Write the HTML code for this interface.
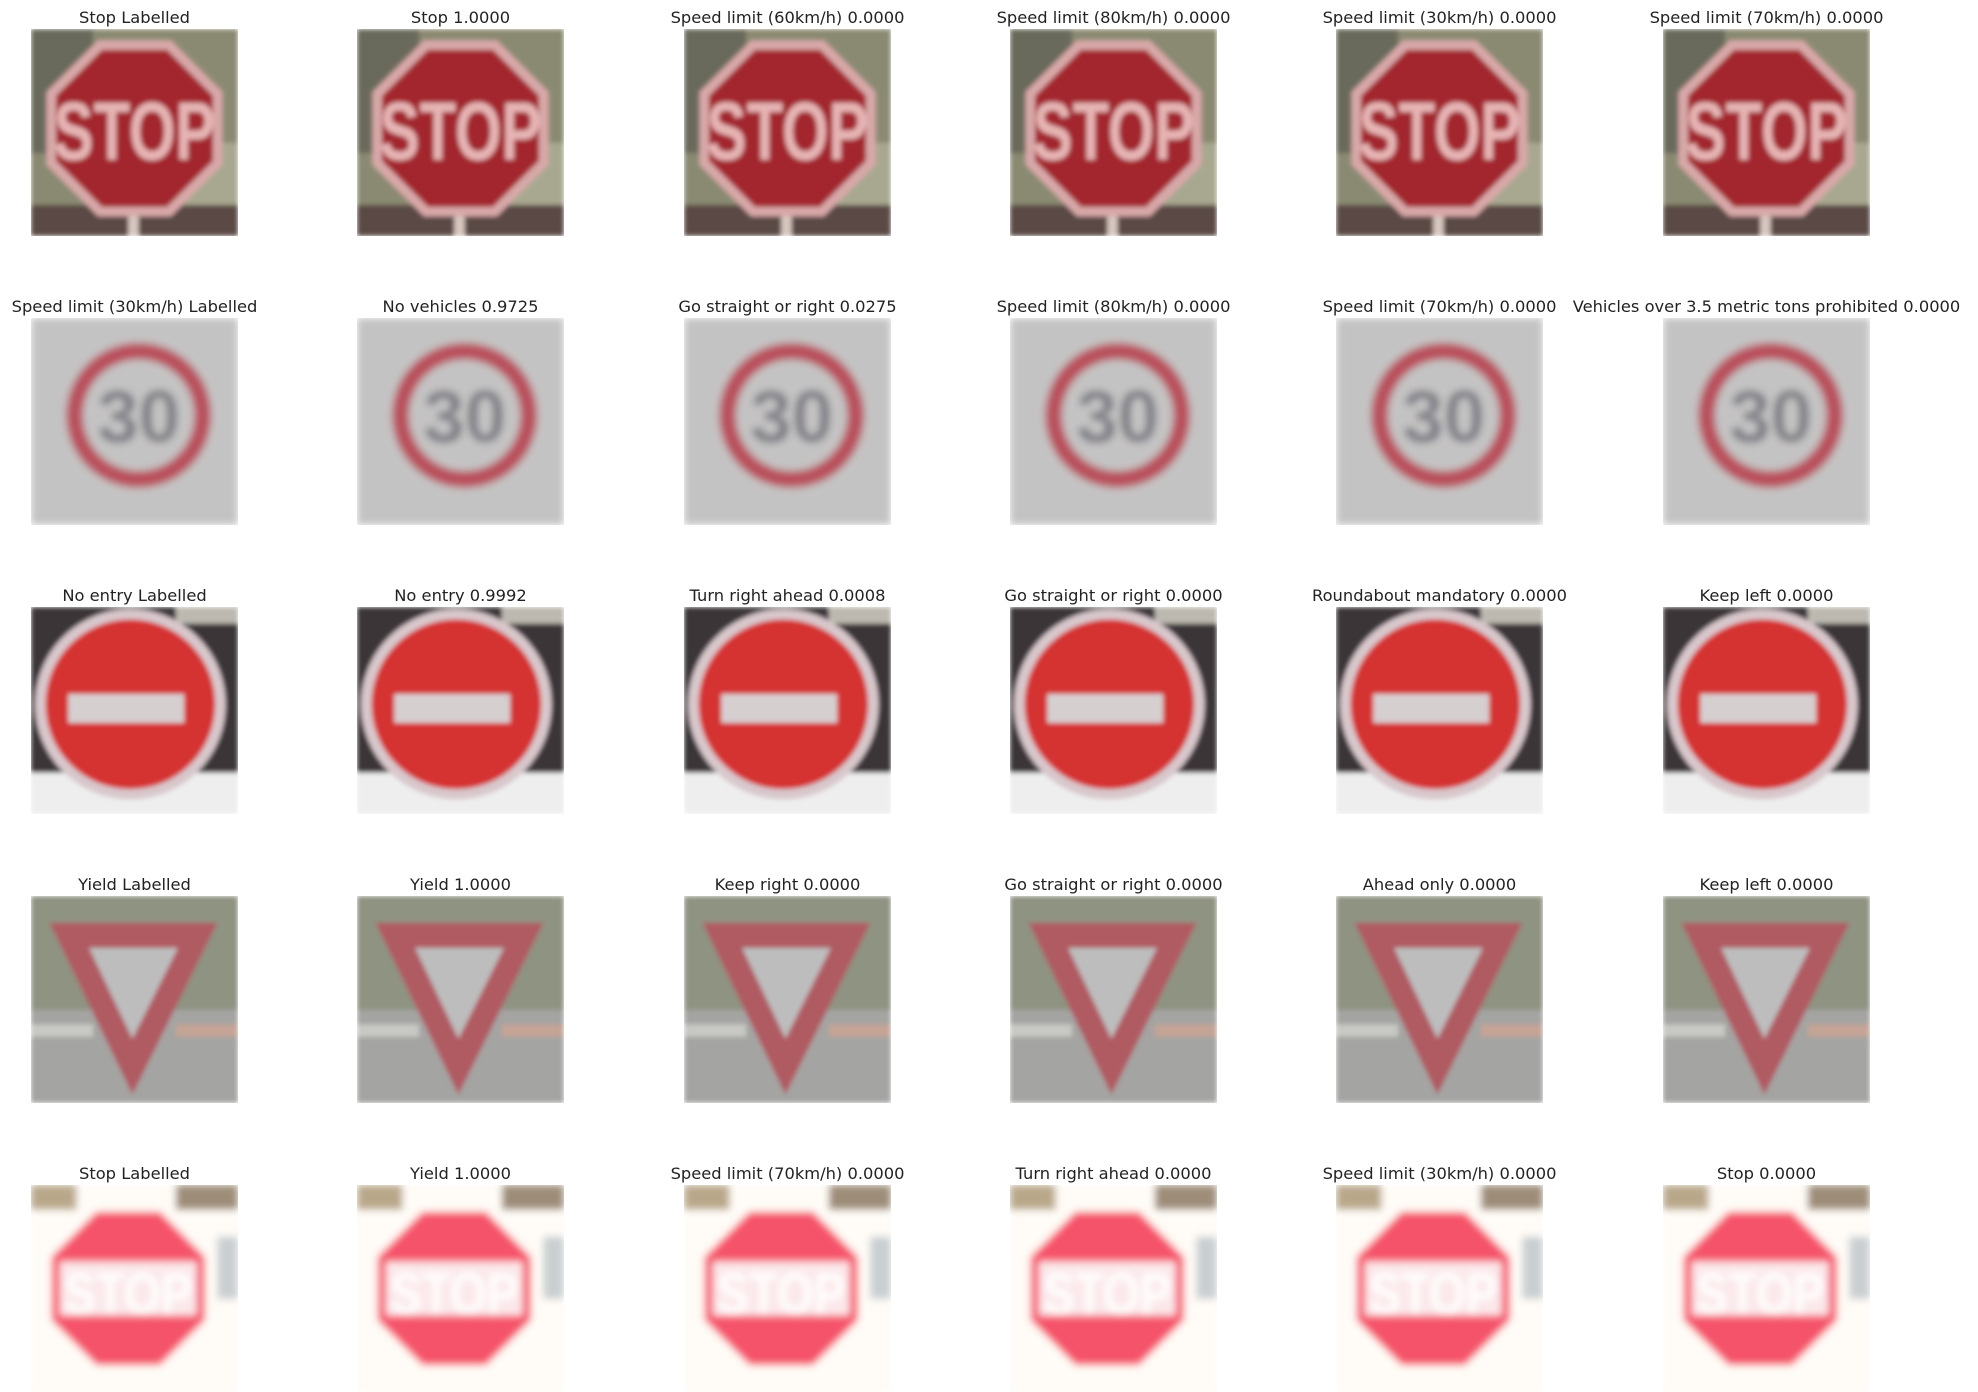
<!DOCTYPE html>
<html><head><meta charset="utf-8"><style>
body{margin:0;background:#fff;}
svg{display:block;}
text{font-family:"DejaVu Sans","Liberation Sans",sans-serif;font-size:16.3px;fill:#222;}
</style></head><body>
<svg id="fig" width="1978" height="1392" viewBox="0 0 1978 1392" xmlns="http://www.w3.org/2000/svg">
<defs>
<filter id="blur" x="0" y="0" width="1" height="1"><feGaussianBlur stdDeviation="1.2"/></filter>
<filter id="blur2" x="0" y="0" width="1" height="1"><feGaussianBlur stdDeviation="1.8"/></filter>
</defs>
</svg>
<script>
const rowSigns = ['stop','speed30','noentry','yield','stopbright'];
const titles = [
 ['Stop Labelled','Stop 1.0000','Speed limit (60km/h) 0.0000','Speed limit (80km/h) 0.0000','Speed limit (30km/h) 0.0000','Speed limit (70km/h) 0.0000'],
 ['Speed limit (30km/h) Labelled','No vehicles 0.9725','Go straight or right 0.0275','Speed limit (80km/h) 0.0000','Speed limit (70km/h) 0.0000','Vehicles over 3.5 metric tons prohibited 0.0000'],
 ['No entry Labelled','No entry 0.9992','Turn right ahead 0.0008','Go straight or right 0.0000','Roundabout mandatory 0.0000','Keep left 0.0000'],
 ['Yield Labelled','Yield 1.0000','Keep right 0.0000','Go straight or right 0.0000','Ahead only 0.0000','Keep left 0.0000'],
 ['Stop Labelled','Yield 1.0000','Speed limit (70km/h) 0.0000','Turn right ahead 0.0000','Speed limit (30km/h) 0.0000','Stop 0.0000']
];
const X0=31, Y0=29, DX=326.3, DY=289, S=207;
const oct=(cx,cy,r)=>{let p=[];for(let i=0;i<8;i++){const a=Math.PI/8+i*Math.PI/4;p.push((cx+r*Math.cos(a)).toFixed(1)+','+(cy+r*Math.sin(a)).toFixed(1));}return p.join(' ');};
function signSVG(kind){
  if(kind==='stop') return `<rect width="100" height="100" fill="#8a8a72"/>
  <rect x="0" y="0" width="30" height="60" fill="#6a6a5c"/><rect x="70" y="55" width="30" height="45" fill="#a8a890"/>
  <rect x="0" y="85" width="100" height="15" fill="#5a4a44"/><rect x="47" y="86" width="5" height="14" fill="#d8c8c0"/>
  <polygon points="${oct(50,48,46)}" fill="#d8a8a8"/><polygon points="${oct(50,48,41)}" fill="#a3262e"/>
  <text x="50" y="63" text-anchor="middle" style="font-family:'Liberation Sans',sans-serif;font-weight:bold;font-size:40px;fill:#e6b4b4" textLength="78" lengthAdjust="spacingAndGlyphs">STOP</text>`;
  if(kind==='speed30') return `<rect width="100" height="100" fill="#c4c3c3"/>
  <circle cx="52" cy="47" r="31" fill="none" stroke="#b94f5c" stroke-width="8"/>
  <text x="52" y="60" text-anchor="middle" style="font-family:'Liberation Sans',sans-serif;font-weight:bold;font-size:36px;fill:#7f7f86">30</text>`;
  if(kind==='noentry') return `<rect width="100" height="100" fill="#3a3638"/>
  <rect x="0" y="80" width="100" height="20" fill="#eeeeee"/><rect x="70" y="0" width="30" height="8" fill="#bdb9b0"/>
  <circle cx="48" cy="47" r="46" fill="#d8c8cc"/><circle cx="48" cy="47" r="41" fill="#d53333"/>
  <rect x="18" y="42" width="56" height="14" fill="#d6cfd0"/>`;
  if(kind==='yield') return `<rect width="100" height="100" fill="#8f9382"/>
  <rect x="0" y="55" width="100" height="45" fill="#a4a4a2"/><rect x="70" y="62" width="30" height="6" fill="#c5a495"/><rect x="0" y="62" width="30" height="6" fill="#c8c8c4"/>
  <polygon points="9,13 90,13 49,96" fill="#b05a62"/><polygon points="28,25 71,25 49,69" fill="#bdbdbd"/>`;
  return `<rect width="100" height="100" fill="#fffbf6"/>
  <rect x="0" y="0" width="22" height="12" fill="#b9a78a"/><rect x="70" y="0" width="30" height="12" fill="#9d8c78"/>
  <rect x="90" y="25" width="10" height="30" fill="#c9cfd1"/>
  <polygon points="${oct(47,50,40)}" fill="#f5536a"/>
  <rect x="14" y="37" width="66" height="26" fill="#fbe8ea"/>
  <text x="47" y="62" text-anchor="middle" style="font-family:'Liberation Sans',sans-serif;font-weight:bold;font-size:28px;fill:#ffffff" textLength="62" lengthAdjust="spacingAndGlyphs">STOP</text>`;
}
const svg=document.getElementById('fig');
const NS='http://www.w3.org/2000/svg';
rowSigns.forEach((kind,r)=>{
  titles[r].forEach((t,c)=>{
    const x=Math.round(X0+c*DX), y=Y0+r*DY;
    const g=document.createElementNS(NS,'g');
    
    
    const tx=document.createElementNS(NS,'text');
    
    
    tx.setAttribute('x',x+S/2);tx.setAttribute('y',y-6);tx.setAttribute('text-anchor','middle');
    tx.textContent=t;
    g.appendChild(tx);
    const im=document.createElementNS(NS,'svg');
    
    
    im.setAttribute('x',x);im.setAttribute('y',y);im.setAttribute('width',S);im.setAttribute('height',S);
    im.setAttribute('viewBox','0 0 100 100');im.setAttribute('preserveAspectRatio','none');
    im.innerHTML='<g filter="url(#'+(kind==='stopbright'||kind==='speed30'?'blur2':'blur')+')">'+signSVG(kind)+'</g>';
    g.appendChild(im);
    svg.appendChild(g);
  });
});
</script>
</body></html>
